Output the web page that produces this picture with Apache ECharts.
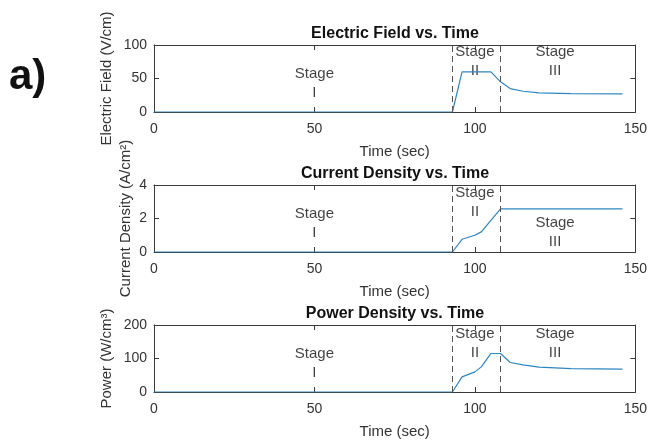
<!DOCTYPE html>
<html>
<head>
<meta charset="utf-8">
<script src="https://cdn.jsdelivr.net/npm/echarts@6/dist/echarts.min.js"></script>
<style>
  html, body { margin: 0; padding: 0; background: #fff; }
  #main { width: 650px; height: 444px; }
</style>
</head>
<body>
<div id="main"></div>
<script>
// data
var timeE = [0, 93, 96, 105, 108, 111, 115, 120, 130, 146];
var efield = [0, 0, 60, 60, 45, 35, 31, 28.5, 27.5, 27];

var timeJ = [0, 93, 96, 100, 102, 108, 146];
var current = [0, 0, 0.76, 1.0, 1.2, 2.57, 2.57];

var timeP = [0, 93, 96, 100, 102, 105, 108, 111, 115, 120, 130, 146];
var power = [0, 0, 45, 60, 75, 115, 115, 88, 81, 74, 70, 68];

var stageBounds = [93, 108];
var stageNames = ['I', 'II', 'III'];
var stageX = [50, 100, 125];
var stageYE = [43, 75, 75];
var stageYJ = [1.7, 2.94, 1.16];
var stageYP = [85, 145, 145];

var titles = ['Electric Field vs. Time', 'Current Density vs. Time', 'Power Density vs. Time'];
var yNames = ['Electric Field (V/cm)', 'Current Density (A/cm\u00b2)', 'Power (W/cm\u00b3)'];
var yMax = [100, 4, 200];
var yStep = [50, 2, 100];
var xTicks = [0, 150, 50]; // min, max, interval

var FONT = "'Liberation Sans', Arial, sans-serif";
var AX = '#3a3a3a';
var gridTops = [45, 185, 325];
var yNameGaps = [40, 21, 40]; // matlab puts the label closer when tick labels are narrow

var myChart = echarts.init(document.getElementById('main'));

function pairs(xs, ys) {
	return xs.map(function (x, i) { return [x, ys[i]]; });
}

var grids = [], xAxes = [], yAxes = [], series = [], titleList = [];
var lineData = [pairs(timeE, efield), pairs(timeJ, current), pairs(timeP, power)];
var stageYs = [stageYE, stageYJ, stageYP];

for (var i = 0; i < 3; i++) {
	grids.push({ left: 154, top: gridTops[i], width: 483, height: 67 });
	titleList.push({
		text: titles[i], left: 395, top: gridTops[i] - 19, textAlign: 'center', padding: 0,
		textStyle: { fontFamily: FONT, fontSize: 16, fontWeight: 'bold', color: '#111' }
	});
	// bottom / top x axes
	xAxes.push({
		type: 'value', gridIndex: i, min: xTicks[0], max: xTicks[1], interval: xTicks[2],
		name: 'Time (sec)', nameLocation: 'middle', nameGap: 32,
		nameTextStyle: { fontFamily: FONT, fontSize: 15, color: '#333' },
		axisLine: { onZero: false, lineStyle: { color: AX } },
		axisTick: { inside: true, length: 5, lineStyle: { color: AX } },
		axisLabel: { fontFamily: FONT, fontSize: 14, color: '#333', margin: 10 },
		splitLine: { show: false }
	});
	xAxes.push({
		type: 'value', gridIndex: i, position: 'top', min: xTicks[0], max: xTicks[1], interval: xTicks[2],
		axisLine: { onZero: false, lineStyle: { color: AX } },
		axisTick: { inside: true, length: 5, lineStyle: { color: AX } },
		axisLabel: { show: false }, splitLine: { show: false }
	});
	yAxes.push({
		type: 'value', gridIndex: i, min: 0, max: yMax[i], interval: yStep[i],
		name: yNames[i], nameLocation: 'middle', nameGap: yNameGaps[i], nameMoveOverlap: false,
		nameTextStyle: { fontFamily: FONT, fontSize: 15, color: '#333' },
		axisLine: { show: true, onZero: false, lineStyle: { color: AX } },
		axisTick: { show: true, inside: true, length: 5, lineStyle: { color: AX } },
		axisLabel: { fontFamily: FONT, fontSize: 14, color: '#333', margin: 7 },
		splitLine: { show: false }
	});
	yAxes.push({
		type: 'value', gridIndex: i, position: 'right', min: 0, max: yMax[i], interval: yStep[i],
		axisLine: { show: true, onZero: false, lineStyle: { color: AX } },
		axisTick: { show: true, inside: true, length: 5, lineStyle: { color: AX } },
		axisLabel: { show: false }, splitLine: { show: false }
	});

	series.push({
		type: 'line', xAxisIndex: 2 * i, yAxisIndex: 2 * i,
		data: lineData[i], showSymbol: false, silent: true,
		lineStyle: { color: '#2e86c1', width: 1.2 },
		markLine: {
			silent: true, symbol: 'none', label: { show: false },
			lineStyle: { color: '#555', type: [6, 4], width: 1 },
			data: stageBounds.map(function (b) { return { xAxis: b }; })
		}
	});
	series.push({
		type: 'scatter', xAxisIndex: 2 * i, yAxisIndex: 2 * i, silent: true,
		symbolSize: 0, itemStyle: { color: '#fff' },
		label: {
			show: true, position: 'inside', fontFamily: FONT, fontSize: 15, lineHeight: 19,
			color: '#111', align: 'center', textBorderWidth: 0, textBorderColor: 'transparent',
			formatter: function (p) { return p.name; }
		},
		data: stageX.map(function (x, k) {
			return { name: 'Stage\n' + stageNames[k], value: [x, stageYs[i][k]] };
		})
	});
}

var option = {
	animation: false,
	backgroundColor: '#fff',
	title: titleList,
	grid: grids,
	xAxis: xAxes,
	yAxis: yAxes,
	series: series,
	graphic: [{
		type: 'text', left: 9, top: 56,
		style: { text: 'a)', font: 'bold 42px ' + FONT, fill: '#111' }
	}]
};
myChart.setOption(option);
</script>
</body>
</html>
